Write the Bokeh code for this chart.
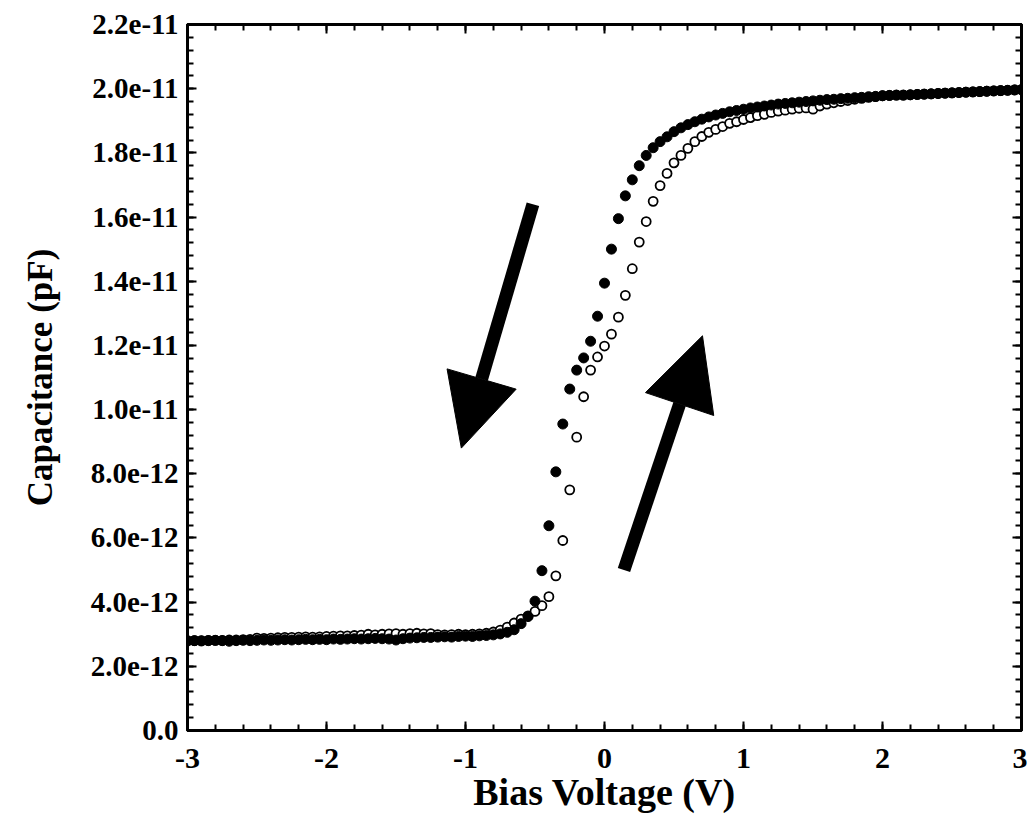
from bokeh.plotting import figure
from bokeh.models import (Range1d, LinearAxis, FixedTicker, CustomJSTickFormatter,
                          Arrow, NormalHead, ColumnDataSource)
from bokeh.embed import file_html
from bokeh.resources import INLINE

# ---------------- data ----------------
bias_v = [-3.00, -2.95, -2.90, -2.85, -2.80, -2.75, -2.70, -2.65, -2.60, -2.55,
          -2.50, -2.45, -2.40, -2.35, -2.30, -2.25, -2.20, -2.15, -2.10, -2.05,
          -2.00, -1.95, -1.90, -1.85, -1.80, -1.75, -1.70, -1.65, -1.60, -1.55,
          -1.50, -1.45, -1.40, -1.35, -1.30, -1.25, -1.20, -1.15, -1.10, -1.05,
          -1.00, -0.95, -0.90, -0.85, -0.80, -0.75, -0.70, -0.65, -0.60, -0.55,
          -0.50, -0.45, -0.40, -0.35, -0.30, -0.25, -0.20, -0.15, -0.10, -0.05,
          0.00, 0.05, 0.10, 0.15, 0.20, 0.25, 0.30, 0.35, 0.40, 0.45,
          0.50, 0.55, 0.60, 0.65, 0.70, 0.75, 0.80, 0.85, 0.90, 0.95,
          1.00, 1.05, 1.10, 1.15, 1.20, 1.25, 1.30, 1.35, 1.40, 1.45,
          1.50, 1.55, 1.60, 1.65, 1.70, 1.75, 1.80, 1.85, 1.90, 1.95,
          2.00, 2.05, 2.10, 2.15, 2.20, 2.25, 2.30, 2.35, 2.40, 2.45,
          2.50, 2.55, 2.60, 2.65, 2.70, 2.75, 2.80, 2.85, 2.90, 2.95,
          3.00]

# capacitance in units of 1e-12 F (filled markers: sweep toward negative bias)
cap_filled_e12 = [2.79, 2.80, 2.79, 2.80, 2.81, 2.80, 2.78, 2.80, 2.81, 2.80,
                  2.81, 2.82, 2.81, 2.82, 2.83, 2.82, 2.83, 2.84, 2.83, 2.84,
                  2.83, 2.85, 2.84, 2.85, 2.86, 2.85, 2.86, 2.87, 2.86, 2.85,
                  2.82, 2.86, 2.88, 2.89, 2.90, 2.90, 2.91, 2.92, 2.91, 2.93,
                  2.94, 2.93, 2.95, 2.96, 2.98, 3.01, 3.06, 3.14, 3.33, 3.55,
                  4.03, 4.98, 6.38, 8.06, 9.55, 10.64, 11.23, 11.61, 12.13, 12.91,
                  13.94, 15.00, 15.95, 16.66, 17.16, 17.60, 17.92, 18.16, 18.35, 18.50,
                  18.66, 18.78, 18.88, 18.97, 19.05, 19.12, 19.18, 19.23, 19.28, 19.32,
                  19.36, 19.40, 19.43, 19.46, 19.49, 19.52, 19.54, 19.56, 19.58, 19.60,
                  19.62, 19.64, 19.66, 19.67, 19.69, 19.70, 19.72, 19.73, 19.75, 19.76,
                  19.78, 19.79, 19.80, 19.80, 19.81, 19.82, 19.83, 19.84, 19.85, 19.86,
                  19.87, 19.88, 19.89, 19.90, 19.91, 19.92, 19.93, 19.94, 19.95, 19.96,
                  19.97]

# open markers: sweep toward positive bias
cap_open_e12 = [2.80, 2.80, 2.80, 2.81, 2.81, 2.81, 2.82, 2.82, 2.83, 2.84,
                2.88, 2.87, 2.88, 2.89, 2.90, 2.90, 2.91, 2.92, 2.91, 2.92,
                2.93, 2.94, 2.95, 2.95, 2.96, 2.97, 3.00, 2.98, 3.00, 3.01,
                3.02, 3.00, 3.02, 3.03, 3.01, 3.02, 2.99, 2.98, 2.99, 3.00,
                2.99, 3.00, 3.01, 3.03, 3.07, 3.13, 3.22, 3.35, 3.47, 3.57,
                3.71, 3.89, 4.17, 4.82, 5.92, 7.50, 9.14, 10.40, 11.23, 11.64,
                11.98, 12.35, 12.88, 13.56, 14.39, 15.22, 15.86, 16.49, 16.98, 17.36,
                17.69, 17.92, 18.14, 18.35, 18.51, 18.64, 18.73, 18.82, 18.92, 18.97,
                19.04, 19.10, 19.16, 19.20, 19.26, 19.30, 19.33, 19.36, 19.39, 19.40,
                19.36, 19.46, 19.52, 19.56, 19.60, 19.63, 19.67, 19.70, 19.73, 19.75,
                19.78, 19.79, 19.80, 19.80, 19.81, 19.82, 19.83, 19.84, 19.85, 19.86,
                19.87, 19.88, 19.89, 19.90, 19.91, 19.92, 19.93, 19.94, 19.95, 19.96,
                19.97]

x_ticks = [-3, -2, -1, 0, 1, 2, 3]
y_ticks = [0.0, 2e-12, 4e-12, 6e-12, 8e-12, 1e-11, 1.2e-11, 1.4e-11,
           1.6e-11, 1.8e-11, 2.0e-11, 2.2e-11]

# arrow annotations (start -> end), in data units (V, F)
arrow_down = dict(x_start=-0.515, y_start=16.4e-12, x_end=-1.03, y_end=8.8e-12)
arrow_up = dict(x_start=0.14, y_start=5.0e-12, x_end=0.705, y_end=12.3e-12)

# ---------------- figure ----------------
FONT = "Liberation Serif"

p = figure(width=1027, height=821, output_backend="svg", toolbar_location=None,
           x_range=Range1d(-3, 3), y_range=Range1d(0, 2.2e-11),
           min_border_left=187, min_border_right=6, min_border_top=24,
           min_border_bottom=91, x_axis_label="Bias Voltage (V)",
           y_axis_label="Capacitance (pF)")
p.grid.visible = False
p.outline_line_color = "black"
p.outline_line_width = 3
p.background_fill_color = "white"
p.border_fill_color = "white"

x_minor = [round(-3 + 0.2 * k, 2) for k in range(31)]
y_minor = [k * 0.4e-12 for k in range(56)]

x_ticker = FixedTicker(ticks=x_ticks, minor_ticks=x_minor)
y_ticker = FixedTicker(ticks=y_ticks, minor_ticks=y_minor)

y_fmt = CustomJSTickFormatter(code="""
if (Math.abs(tick) < 1e-15) { return '0.0'; }
return tick.toExponential(1);
""")
x_fmt = CustomJSTickFormatter(code="return Math.round(tick).toString();")


def style_axis(ax, show_labels):
    ax.axis_line_width = 3
    ax.axis_line_color = "black"
    ax.major_tick_in = 9
    ax.major_tick_out = 0
    ax.minor_tick_in = 6
    ax.minor_tick_out = 0
    ax.major_tick_line_width = 2
    ax.minor_tick_line_width = 2
    ax.major_tick_line_color = "black"
    ax.minor_tick_line_color = "black"
    if show_labels:
        ax.major_label_text_font = FONT
        ax.major_label_text_font_style = "bold"
        ax.major_label_text_color = "black"
        ax.axis_label_text_font = FONT
        ax.axis_label_text_font_style = "bold"
        ax.axis_label_text_color = "black"
    else:
        ax.major_label_text_font_size = "0px"
        ax.major_label_text_alpha = 0


xa = p.xaxis[0]
xa.ticker = x_ticker
xa.formatter = x_fmt
style_axis(xa, True)
xa.major_label_text_font_size = "30px"
xa.major_label_standoff = 18
xa.axis_label_text_font_size = "38px"
xa.axis_label_standoff = 0

ya = p.yaxis[0]
ya.ticker = y_ticker
ya.formatter = y_fmt
style_axis(ya, True)
ya.major_label_text_font_size = "29px"
ya.major_label_standoff = 9
ya.axis_label_text_font_size = "35px"
ya.axis_label_standoff = 28

top_ax = LinearAxis(ticker=FixedTicker(ticks=x_ticks, minor_ticks=x_minor))
style_axis(top_ax, False)
p.add_layout(top_ax, "above")

right_ax = LinearAxis(ticker=FixedTicker(ticks=y_ticks, minor_ticks=y_minor))
style_axis(right_ax, False)
p.add_layout(right_ax, "right")

src = ColumnDataSource(dict(
    v=bias_v,
    c_filled=[c * 1e-12 for c in cap_filled_e12],
    c_open=[c * 1e-12 for c in cap_open_e12],
))

p.scatter("v", "c_open", source=src, marker="circle", size=9,
          fill_color="white", line_color="black", line_width=1.8)
p.scatter("v", "c_filled", source=src, marker="circle", size=10,
          fill_color="black", line_color="black", line_width=1)

for a in (arrow_down, arrow_up):
    p.add_layout(Arrow(end=NormalHead(size=72, fill_color="black",
                                      line_color="black", line_width=1),
                       line_width=13, line_color="black", **a))

open("out.html", "w").write(file_html(p, INLINE))
